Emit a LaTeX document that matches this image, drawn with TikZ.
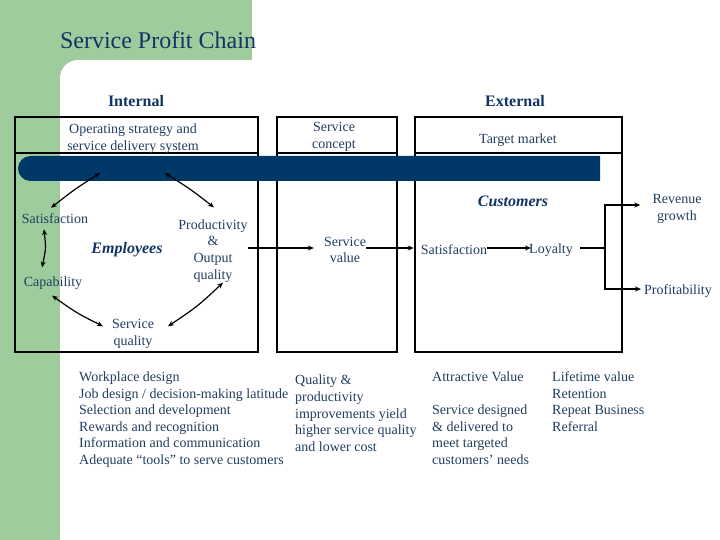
\documentclass[tikz,border=0pt]{standalone}
\usepackage{fontspec}
\setmainfont{Liberation Serif}
\usetikzlibrary{arrows.meta,calc}
\definecolor{bggreen}{RGB}{158,204,156}
\definecolor{barnavy}{RGB}{0,56,104}
\definecolor{txt}{RGB}{32,62,96}
\definecolor{head}{RGB}{18,52,100}
\begin{document}
\begin{tikzpicture}[x=1pt,y=-1pt,
  lbl/.style={font=\fontsize{14}{16.7}\selectfont, text=txt, inner sep=0pt, align=center},
  listtxt/.style={font=\fontsize{14}{16.6}\selectfont, text=txt, inner sep=0pt, align=left, anchor=north west},
  heading/.style={font=\fontsize{16}{19}\selectfont\bfseries, text=head, inner sep=0pt},
  group/.style={font=\fontsize{16}{19}\selectfont\bfseries\itshape, text=head, inner sep=0pt},
  box/.style={draw=black, line width=1.3pt},
  dbl/.style={{Stealth[length=6pt,width=5pt]}-{Stealth[length=6pt,width=5pt]}, line width=1.2pt},
  arr/.style={-{Stealth[length=6pt,width=5pt]}, line width=1.2pt},
  plain/.style={line width=1.2pt}]
\useasboundingbox (0,0) rectangle (720,540);
% background
\fill[bggreen] (0,0) rectangle (252,60);
\fill[bggreen] (0,0) rectangle (60,540);
\fill[bggreen] (60,60) rectangle (78,78);
\fill[white] (78,78) circle[radius=18];
% title
\node[font=\fontsize{24}{28}\selectfont, text=head, inner sep=0pt] (title) at (158,40) {Service Profit Chain};
\node[heading] (internal) at (136,101) {Internal};
\node[heading] (external) at (515,101) {External};
% boxes
\draw[box] (15,117) rectangle (258,352);
\draw[box] (15,153) -- (258,153);
\draw[box] (277,117) rectangle (397,352);
\draw[box] (277,153) -- (397,153);
\draw[box] (415,117) rectangle (622,352);
\draw[box] (415,153) -- (622,153);
% bar
\fill[barnavy] (600,156) -- (30.5,156) arc[start angle=270,end angle=90,radius=12.5] -- (600,181) -- cycle;
% header texts
\node[lbl] (ops) at (133,139) {Operating strategy and\\service delivery system};
\node[lbl] (sconcept) at (334,137) {Service\\concept};
\node[lbl] (target) at (518,140) {Target market};
% employees cycle
\node[group] (employees) at (127,250) {Employees};
\node[lbl] (esat) at (55,219) {Satisfaction};
\node[lbl] (ecap) at (53,283) {Capability};
\node[lbl] (prod) at (213,251) {Productivity\\\&\\Output\\quality};
\node[lbl] (squal) at (133,334) {Service\\quality};
\coordinate (b1) at (100,173);
\coordinate (b2) at (165,173);
\coordinate (a2) at ($(esat.north)+(-4,-6)$);
\coordinate (p1) at ($(prod.north)+(1,-12)$);
\coordinate (c1) at ($(esat.south)+(-11,5)$);
\coordinate (c2) at ($(ecap.north)+(-11,-9)$);
\coordinate (d1) at ($(ecap.south)+(-1,6)$);
\coordinate (d2) at ($(squal.north)+(-30,7)$);
\coordinate (e1) at ($(squal.north)+(35,7)$);
\coordinate (e2) at ($(prod.south)+(10,0)$);
\draw[dbl] (b1) .. controls ($(b1)!0.5!(a2)+(-1,-1)$) .. (a2);
\draw[dbl] (b2) .. controls ($(b2)!0.5!(p1)+(1,-1)$) .. (p1);
\draw[dbl] (c1) .. controls ($(c1)!0.5!(c2)+(3,0)$) .. (c2);
\draw[dbl] (d1) .. controls ($(d1)!0.5!(d2)+(-1,2)$) .. (d2);
\draw[dbl] (e1) .. controls ($(e1)!0.5!(e2)+(2,2)$) .. (e2);
% service value
\node[lbl] (svalue) at (345,250) {Service\\value};
% customers
\node[group] (customers) at (513,201) {Customers};
\node[lbl] (csat) at (454,250) {Satisfaction};
\node[lbl] (loyal) at (551,250) {Loyalty};
\node[lbl] (revenue) at (677,209) {Revenue\\growth};
\node[lbl] (profit) at (678,291) {Profitability};
\coordinate (junction) at (605,248);
\draw[arr] (prod.east |- junction) -- ([xshift=-10pt]svalue.west |- junction);
\draw[arr] (svalue.east |- junction) -- ([xshift=-7pt]csat.west |- junction);
\draw[arr] (csat.east |- junction) -- ([xshift=2pt]loyal.west |- junction);
\draw[plain] ([xshift=7pt]loyal.east |- junction) -- (junction);
\coordinate (rv) at ($(revenue.west)+(-12,-4)$);
\coordinate (pf) at ($(profit.west)+(-3,-2)$);
\draw[arr] (junction) |- (rv);
\draw[arr] (junction) |- (pf);
% lower texts
\node[listtxt] (list1) at (79,371.5) {Workplace design\\Job design / decision-making latitude\\Selection and development\\Rewards and recognition\\Information and communication\\Adequate “tools” to serve customers};
\node[listtxt] (list2) at (295,375) {Quality \&\\productivity\\improvements yield\\higher service quality\\and lower cost};
\node[listtxt] (list3) at (432,371.5) {Attractive Value\\[16.6pt]Service designed\\\& delivered to\\meet targeted\\customers’ needs};
\node[listtxt] (list4) at (552,371.5) {Lifetime value\\Retention\\Repeat Business\\Referral};
\end{tikzpicture}
\end{document}
